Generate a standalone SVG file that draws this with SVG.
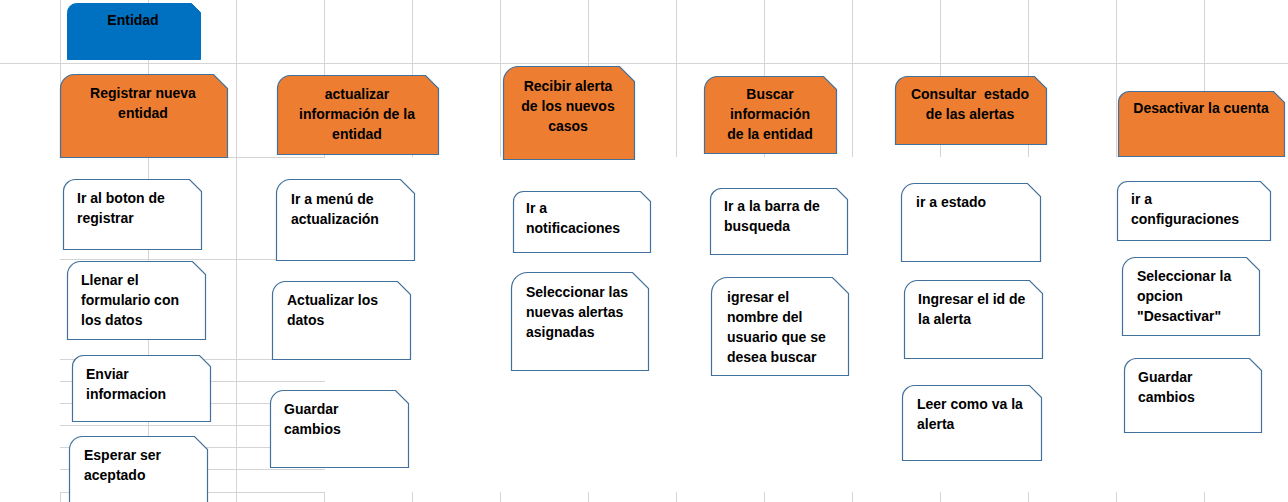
<svg xmlns="http://www.w3.org/2000/svg" width="1288" height="502" viewBox="0 0 1288 502">
<style>
.bg{fill:#ffffff}
.grid line{stroke:#d4d4d4;stroke-width:1;shape-rendering:crispEdges}
.box{fill:#ffffff;stroke:#41719c;stroke-width:1.2}
.ora{fill:#ed7d31;stroke:#41719c;stroke-width:1.2}
.blu{fill:#0070c0;stroke:#0070c0;stroke-width:1}
text{font-family:"Liberation Sans",Arial,sans-serif;font-weight:bold;font-size:14px;fill:#000000}
.c{text-anchor:middle}
</style>
<rect class="bg" x="0" y="0" width="1288" height="502"/>
<g id="grid" class="grid">
<line x1="60.5" y1="0" x2="60.5" y2="157"/>
<line x1="148.5" y1="0" x2="148.5" y2="502"/>
<line x1="236.5" y1="0" x2="236.5" y2="502"/>
<line x1="324.5" y1="0" x2="324.5" y2="157"/>
<line x1="412.5" y1="0" x2="412.5" y2="157"/>
<line x1="500.5" y1="0" x2="500.5" y2="157"/>
<line x1="588.5" y1="0" x2="588.5" y2="157"/>
<line x1="676.5" y1="0" x2="676.5" y2="157"/>
<line x1="764.5" y1="0" x2="764.5" y2="157"/>
<line x1="852.5" y1="0" x2="852.5" y2="157"/>
<line x1="940.5" y1="0" x2="940.5" y2="157"/>
<line x1="1028.5" y1="0" x2="1028.5" y2="157"/>
<line x1="1116.5" y1="0" x2="1116.5" y2="157"/>
<line x1="1204.5" y1="0" x2="1204.5" y2="157"/>
<line x1="0" y1="63.5" x2="1288" y2="63.5"/>
<line x1="60" y1="157.5" x2="325" y2="157.5"/>
<line x1="60" y1="259.5" x2="325" y2="259.5"/>
<line x1="60" y1="359.5" x2="325" y2="359.5"/>
<line x1="60" y1="381.5" x2="325" y2="381.5"/>
<line x1="60" y1="403.5" x2="325" y2="403.5"/>
<line x1="60" y1="425.5" x2="325" y2="425.5"/>
<line x1="60" y1="447.5" x2="325" y2="447.5"/>
<line x1="60" y1="469.5" x2="325" y2="469.5"/>
<line x1="60" y1="492.5" x2="325" y2="492.5"/>
<line x1="60.5" y1="492" x2="60.5" y2="502"/>
<line x1="324.5" y1="492" x2="324.5" y2="502"/>
<line x1="412.5" y1="492" x2="412.5" y2="502"/>
<line x1="500.5" y1="492" x2="500.5" y2="502"/>
<line x1="588.5" y1="492" x2="588.5" y2="502"/>
<line x1="676.5" y1="492" x2="676.5" y2="502"/>
<line x1="764.5" y1="492" x2="764.5" y2="502"/>
<line x1="852.5" y1="492" x2="852.5" y2="502"/>
<line x1="940.5" y1="492" x2="940.5" y2="502"/>
<line x1="1028.5" y1="492" x2="1028.5" y2="502"/>
<line x1="1116.5" y1="492" x2="1116.5" y2="502"/>
<line x1="1204.5" y1="492" x2="1204.5" y2="502"/>
</g>
<g id="connectors"></g>
<g id="entidad">
<path class="blu" d="M67.5,12.5 A9,9 0 0 1 76.5,3.5 H191.5 L200.5,12.5 V59.5 H67.5 Z"/>
<text class="c" x="133" y="25">Entidad</text>
</g>
<g id="registrar-nueva-entidad">
<path class="ora" d="M60.5,88.5 A14,14 0 0 1 74.5,74.5 H213.5 L227.5,88.5 V157.5 H60.5 Z"/>
<text class="c"><tspan x="143" y="98">Registrar nueva</tspan><tspan x="143" y="118">entidad</tspan></text>
</g>
<g id="actualizar-informacion">
<path class="ora" d="M277.5,88.5 A13,13 0 0 1 290.5,75.5 H425.5 L438.5,88.5 V154.5 H277.5 Z"/>
<text class="c"><tspan x="357" y="99">actualizar</tspan><tspan x="357" y="119">información de la</tspan><tspan x="357" y="139">entidad</tspan></text>
</g>
<g id="recibir-alerta">
<path class="ora" d="M503.5,81.5 A15,15 0 0 1 518.5,66.5 H619.5 L634.5,81.5 V159.5 H503.5 Z"/>
<text class="c"><tspan x="568" y="91">Recibir alerta</tspan><tspan x="568" y="111">de los nuevos</tspan><tspan x="568" y="131">casos</tspan></text>
</g>
<g id="buscar-informacion">
<path class="ora" d="M704.5,89.5 A13,13 0 0 1 717.5,76.5 H823.5 L836.5,89.5 V153.5 H704.5 Z"/>
<text class="c"><tspan x="770" y="99">Buscar</tspan><tspan x="770" y="119">información</tspan><tspan x="770" y="139">de la entidad</tspan></text>
</g>
<g id="consultar-estado">
<path class="ora" d="M895.5,88.5 A12,12 0 0 1 907.5,76.5 H1034.5 L1046.5,88.5 V144.5 H895.5 Z"/>
<text class="c" style="white-space:pre"><tspan x="970" y="99">Consultar  estado</tspan><tspan x="970" y="119">de las alertas</tspan></text>
</g>
<g id="desactivar-cuenta">
<path class="ora" d="M1118.5,102.5 A11,11 0 0 1 1129.5,91.5 H1273.5 L1284.5,102.5 V156.5 H1118.5 Z"/>
<text class="c" x="1201" y="113">Desactivar la cuenta</text>
</g>
<g id="ir-boton-registrar">
<path class="box" d="M63.5,191.5 A12,12 0 0 1 75.5,179.5 H189.5 L201.5,191.5 V249.5 H63.5 Z"/>
<text><tspan x="77" y="203">Ir al boton de</tspan><tspan x="77" y="223">registrar</tspan></text>
</g>
<g id="llenar-formulario">
<path class="box" d="M67.5,274.5 A13,13 0 0 1 80.5,261.5 H192.5 L205.5,274.5 V339.5 H67.5 Z"/>
<text><tspan x="81" y="285">Llenar el</tspan><tspan x="81" y="305">formulario con</tspan><tspan x="81" y="325">los datos</tspan></text>
</g>
<g id="enviar-informacion">
<path class="box" d="M72.5,366.5 A11,11 0 0 1 83.5,355.5 H199.5 L210.5,366.5 V421.5 H72.5 Z"/>
<text><tspan x="86" y="379">Enviar</tspan><tspan x="86" y="399">informacion</tspan></text>
</g>
<g id="esperar-aceptado">
<path class="box" d="M69.5,449.5 A13,13 0 0 1 82.5,436.5 H194.5 L207.5,449.5 V516 H69.5 Z"/>
<text><tspan x="84" y="460">Esperar ser</tspan><tspan x="84" y="480">aceptado</tspan></text>
</g>
<g id="ir-menu-actualizacion">
<path class="box" d="M276.5,193.5 A14,14 0 0 1 290.5,179.5 H400.5 L414.5,193.5 V260.5 H276.5 Z"/>
<text><tspan x="291" y="204">Ir a menú de</tspan><tspan x="291" y="224">actualización</tspan></text>
</g>
<g id="actualizar-datos">
<path class="box" d="M272.5,294.5 A13,13 0 0 1 285.5,281.5 H397.5 L410.5,294.5 V359.5 H272.5 Z"/>
<text><tspan x="287" y="305">Actualizar los</tspan><tspan x="287" y="325">datos</tspan></text>
</g>
<g id="guardar-cambios-1">
<path class="box" d="M270.5,403.5 A13,13 0 0 1 283.5,390.5 H395.5 L408.5,403.5 V467.5 H270.5 Z"/>
<text><tspan x="284" y="414">Guardar</tspan><tspan x="284" y="434">cambios</tspan></text>
</g>
<g id="ir-notificaciones">
<path class="box" d="M513.5,201.5 A10,10 0 0 1 523.5,191.5 H640.5 L650.5,201.5 V252.5 H513.5 Z"/>
<text><tspan x="526" y="213">Ir a</tspan><tspan x="526" y="233">notificaciones</tspan></text>
</g>
<g id="seleccionar-alertas">
<path class="box" d="M511.5,288.5 A16,16 0 0 1 527.5,272.5 H632.5 L648.5,288.5 V370.5 H511.5 Z"/>
<text><tspan x="526" y="297">Seleccionar las</tspan><tspan x="526" y="317">nuevas alertas</tspan><tspan x="526" y="337">asignadas</tspan></text>
</g>
<g id="ir-barra-busqueda">
<path class="box" d="M710.5,199.5 A11,11 0 0 1 721.5,188.5 H836.5 L847.5,199.5 V254.5 H710.5 Z"/>
<text><tspan x="724" y="211">Ir a la barra de</tspan><tspan x="724" y="231">busqueda</tspan></text>
</g>
<g id="igresar-nombre">
<path class="box" d="M711.5,293.5 A16,16 0 0 1 727.5,277.5 H832.5 L848.5,293.5 V375.5 H711.5 Z"/>
<text><tspan x="727" y="302">igresar el</tspan><tspan x="727" y="322">nombre del</tspan><tspan x="727" y="342">usuario que se</tspan><tspan x="727" y="362">desea buscar</tspan></text>
</g>
<g id="ir-estado">
<path class="box" d="M901.5,196.5 A13,13 0 0 1 914.5,183.5 H1027.5 L1040.5,196.5 V261.5 H901.5 Z"/>
<text x="916" y="207">ir a estado</text>
</g>
<g id="ingresar-id">
<path class="box" d="M904.5,293.5 A13,13 0 0 1 917.5,280.5 H1029.5 L1042.5,293.5 V358.5 H904.5 Z"/>
<text><tspan x="918" y="304">Ingresar el id de</tspan><tspan x="918" y="324">la alerta</tspan></text>
</g>
<g id="leer-alerta">
<path class="box" d="M902.5,397.5 A12,12 0 0 1 914.5,385.5 H1029.5 L1041.5,397.5 V460.5 H902.5 Z"/>
<text><tspan x="917" y="409">Leer como va la</tspan><tspan x="917" y="429">alerta</tspan></text>
</g>
<g id="ir-configuraciones">
<path class="box" d="M1117.5,191.5 A10,10 0 0 1 1127.5,181.5 H1260.5 L1270.5,191.5 V240.5 H1117.5 Z"/>
<text><tspan x="1131" y="204">ir a</tspan><tspan x="1131" y="224">configuraciones</tspan></text>
</g>
<g id="seleccionar-opcion">
<path class="box" d="M1122.5,270.5 A13,13 0 0 1 1135.5,257.5 H1246.5 L1259.5,270.5 V335.5 H1122.5 Z"/>
<text><tspan x="1137" y="281">Seleccionar la</tspan><tspan x="1137" y="301">opcion</tspan><tspan x="1137" y="321">"Desactivar"</tspan></text>
</g>
<g id="guardar-cambios-2">
<path class="box" d="M1124.5,370.5 A12,12 0 0 1 1136.5,358.5 H1249.5 L1261.5,370.5 V432.5 H1124.5 Z"/>
<text><tspan x="1138" y="382">Guardar</tspan><tspan x="1138" y="402">cambios</tspan></text>
</g>
</svg>
